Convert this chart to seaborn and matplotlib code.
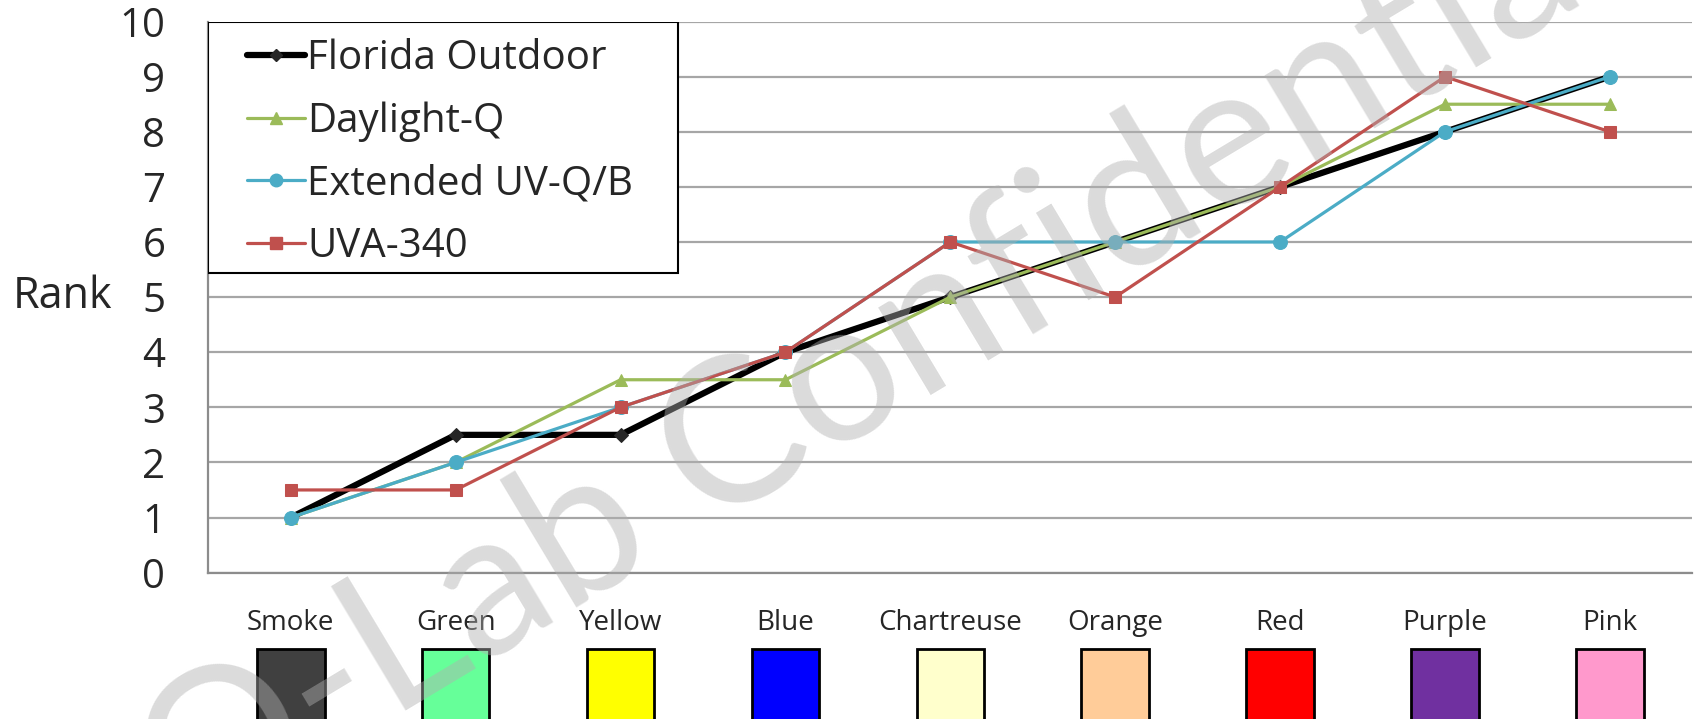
import pandas as pd
import matplotlib
matplotlib.use('Agg')
import matplotlib.pyplot as plt
import matplotlib.transforms as mtransforms
from matplotlib.patches import Rectangle
from matplotlib.lines import Line2D
import seaborn as sns

# data
colours = ['Smoke', 'Green', 'Yellow', 'Blue', 'Chartreuse', 'Orange', 'Red', 'Purple', 'Pink']
swatch_colors = ['#404040', '#66FF99', '#FFFF00', '#0000FF', '#FFFFCC', '#FFCC99', '#FF0000', '#7030A0', '#FF99CC']

florida = [1, 2.5, 2.5, 4, 5, 6, 7, 8, 9]
daylight = [1, 2, 3.5, 3.5, 5, 6, 7, 8.5, 8.5]
extended = [1, 2, 3, 4, 6, 6, 6, 8, 9]
uva340 = [1.5, 1.5, 3, 4, 6, 5, 7, 9, 8]

series_names = ['Florida Outdoor', 'Daylight-Q', 'Extended UV-Q/B', 'UVA-340']
series_values = [florida, daylight, extended, uva340]
line_colors = ['#000000', '#9BBB59', '#4BACC6', '#C0504D']
marker_colors = ['#262626', '#9BBB59', '#4BACC6', '#C0504D']
markers = ['D', '^', 'o', 's']
widths = [4.5, 2.3, 2.3, 2.3]
msizes = [7, 9, 10, 9]

rows = []
for name, vals in zip(series_names, series_values):
    for i, v in enumerate(vals):
        rows.append({'pos': i, 'Rank': v, 'Series': name})
df = pd.DataFrame(rows)

sns.set_style('white')
plt.rcParams['font.family'] = ['Open Sans', 'DejaVu Sans']

fig = plt.figure(figsize=(16.94, 7.19), dpi=100)
ax = fig.add_axes([0.123, 0.2036, 0.876, 0.7664])

for name, c, mc, m, w, ms in zip(series_names, line_colors, marker_colors, markers, widths, msizes):
    sub = df[df['Series'] == name]
    sns.lineplot(data=sub, x='pos', y='Rank', ax=ax, color=c, lw=w, marker=m,
                 markersize=ms, markerfacecolor=mc, markeredgecolor=mc, legend=False)

ax.set_xlim(-0.5, len(colours) - 0.5)
ax.set_ylim(0, 10)
ax.set_yticks(range(0, 11))
ax.yaxis.grid(True, color='#a6a6a6', lw=1.6)
ax.set_axisbelow(True)
for s in ['top', 'right']:
    ax.spines[s].set_visible(False)
for s in ['left', 'bottom']:
    ax.spines[s].set_color('#8c8c8c')
    ax.spines[s].set_linewidth(1.6)

# tick marks at category boundaries, labels at centres
ax.set_xticks([i - 0.5 for i in range(len(colours) + 1)])
ax.set_xticklabels([])
ax.set_xticks(range(len(colours)), minor=True)
ax.set_xticklabels(colours, minor=True, fontsize=20)
ax.tick_params(axis='x', which='major', length=11, width=1.6, color='#8c8c8c', direction='out')
ax.tick_params(axis='x', which='minor', length=0, pad=26)
ax.tick_params(axis='y', length=11, width=1.6, color='#8c8c8c', direction='out', labelsize=29, pad=20)
ax.set_xlabel('')
ax.set_ylabel('Rank', fontsize=31, rotation=0, ha='center', va='center')
ax.yaxis.set_label_coords(-0.098, 0.5)

# colour swatches under the labels
trans = mtransforms.blended_transform_factory(ax.transData, ax.transAxes)
for i, sc in enumerate(swatch_colors):
    ax.add_patch(Rectangle((i - 0.205, -0.30), 0.41, 0.162, transform=trans,
                           facecolor=sc, edgecolor='black', lw=2, clip_on=False))

# legend box drawn by hand so the side padding can be wider than the top
ax.add_patch(Rectangle((0, 0.5437), 0.3164, 0.4563, transform=ax.transAxes,
                       facecolor='white', edgecolor='black', lw=1.5, zorder=4.9))
handles = [Line2D([0], [0], color=c, lw=w, marker=m, markersize=ms * 0.9,
                  markerfacecolor=mc, markeredgecolor=mc)
           for c, mc, m, w, ms in zip(line_colors, marker_colors, markers, widths, msizes)]
leg = ax.legend(handles, series_names, loc='upper left', bbox_to_anchor=(0.026, 0.969),
                fontsize=29, frameon=False, handlelength=1.45, handletextpad=0.05,
                labelspacing=0.55, borderpad=0, borderaxespad=0)
leg.set_zorder(5)

# watermark
fig.text(0.52, 0.50, 'Q-Lab Confidential', fontsize=145, color='#b0b0b0', alpha=0.45,
         rotation=31, ha='center', va='center', zorder=10,
         family=['Lato', 'DejaVu Sans'])

fig.savefig('out.png', dpi=100)
